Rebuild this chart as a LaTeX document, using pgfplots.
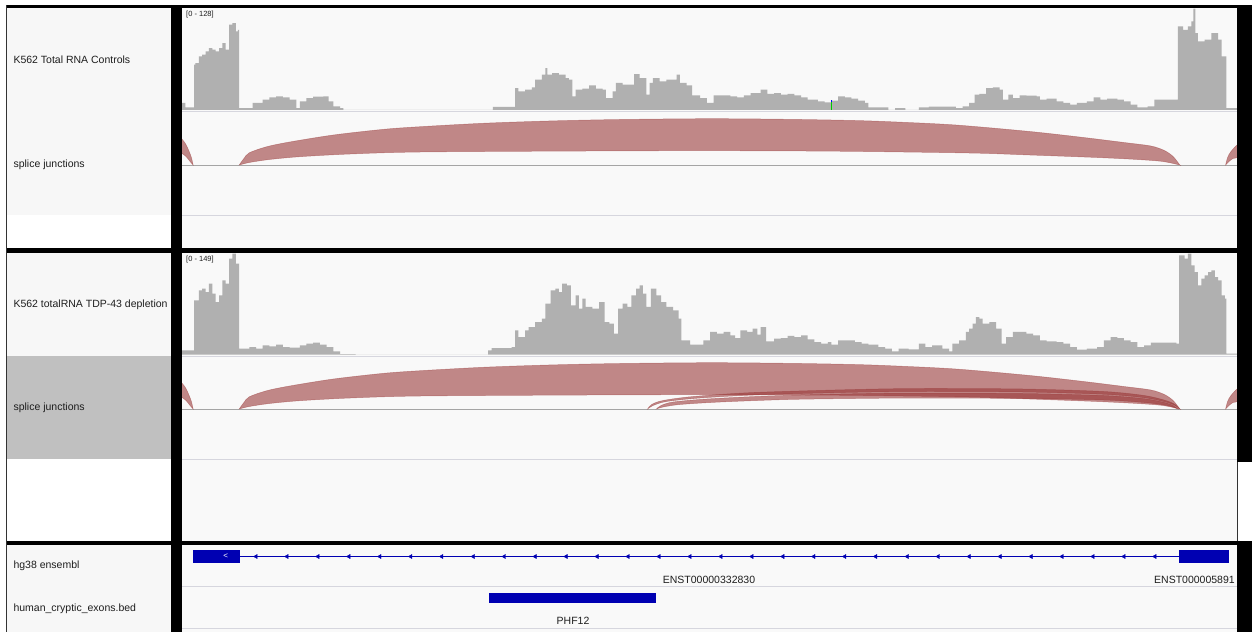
\documentclass[border=0pt]{standalone}
\usepackage{pgfplots}
\pgfplotsset{compat=1.18}
\usepackage{fontspec}
\setmainfont{Liberation Sans}

\definecolor{cov}{RGB}{176,176,176}
\definecolor{jn}{RGB}{150,50,50}
\definecolor{gene}{RGB}{0,0,178}
\definecolor{panel}{RGB}{249,249,249}
\definecolor{lab}{RGB}{247,247,247}
\definecolor{sel}{RGB}{192,192,192}
\definecolor{sep}{RGB}{214,214,222}
\definecolor{base}{RGB}{165,165,165}
\definecolor{txt}{RGB}{30,30,30}

\pgfplotsset{
  trk/.style={scale only axis, hide axis, xmin=0, xmax=1568, width=1055bp,
              anchor=south west, clip=true},
  jshape/.style={smooth, fill=jn, fill opacity=0.57, draw=jn, draw opacity=0.45,
                 line width=0.5bp},
}
\newcommand{\lbl}{\fontsize{10.5bp}{12bp}\selectfont}
\newcommand{\rng}{\fontsize{7.5bp}{8bp}\selectfont}

\begin{document}
\begin{tikzpicture}
\begin{scope}[x=1bp, y=-1bp]
\path[use as bounding box] (0,0) rectangle (1252,632);
\fill[white] (0,0) rectangle (1252,632);
% name panel
\fill[lab] (7,8) rectangle (171,215);
\fill[lab] (7,253) rectangle (171,356);
\fill[sel] (7,356) rectangle (171,459);
\fill[lab] (7,545) rectangle (171,632);
% data panel
\fill[panel] (182,8) rectangle (1237,248);
\fill[panel] (182,253) rectangle (1237,541);
\fill[panel] (182,545) rectangle (1237,632);
% track separators
\draw[sep, line width=1bp] (182,111.5) -- (1237,111.5);
\draw[base, line width=1bp] (182,165.5) -- (1237,165.5);
\draw[sep, line width=1bp] (182,215.5) -- (1237,215.5);
\draw[sep, line width=1bp] (182,356) -- (1237,356);
\draw[base, line width=1bp] (182,409.5) -- (1237,409.5);
\draw[sep, line width=1bp] (182,459.5) -- (1237,459.5);
\draw[sep, line width=1bp] (182,586) -- (1237,586);
\draw[sep, line width=1bp] (182,628) -- (1237,628);
% track names
\node[txt, anchor=west, font=\lbl] at (10,60) {K562 Total RNA Controls};
\node[txt, anchor=west, font=\lbl] at (10,165) {splice junctions};
\node[txt, anchor=west, font=\lbl] at (10,305) {K562 totalRNA TDP-43 depletion};
\node[txt, anchor=west, font=\lbl] at (10,408) {splice junctions};
\node[txt, anchor=west, font=\lbl] at (10,566) {hg38 ensembl};
\node[txt, anchor=west, font=\lbl] at (10,609) {human\_cryptic\_exons.bed};
% data ranges
\node[txt, anchor=west, font=\rng, inner sep=0pt] at (186,15) {[0 - 128]};
\node[txt, anchor=west, font=\rng, inner sep=0pt] at (186,260) {[0 - 149]};
% feature names
\node[txt, font=\lbl] at (709,580) {ENST00000332830};
\node[txt, anchor=west, font=\lbl, inner sep=0pt] at (1154,580) {ENST000005891};
\node[txt, font=\lbl] at (573,621) {PHF12};
\end{scope}

% ---- coverage, controls
\begin{axis}[trk, at={(182bp,-110bp)}, height=102bp, ymin=0, ymax=128]
\addplot[const plot, fill=cov, draw=none] coordinates {
(0,8.8)(5,3.3)(18,56.8)(20,58.9)(25,67.3)(30,69.4)(35,73.6)(40,77.7)(45,75.7)
(50,73.6)(55,77.7)(60,84.0)(65,75.7)(70,107.0)(75,109.1)(80,98.6)(83,100.7)
(85,2.5)(105,8.8)(120,13.0)(130,15.9)(140,17.1)(150,15.9)(160,13.0)(170,2.5)
(175,10.9)(185,15.0)(195,16.7)(210,17.1)(218,10.9)(225,4.6)(235,2.5)(240,0)
(462,3.8)(495,27.6)(500,23.4)(510,25.5)(520,28.4)(525,38.0)(535,44.3)(540,52.7)
(543,44.3)(550,46.4)(560,44.3)(570,40.1)(575,38.0)(580,17.1)(585,25.5)(595,26.8)
(605,30.9)(615,26.8)(625,25.5)(630,15.0)(640,23.4)(645,33.9)(655,31.8)(672,45.1)
(680,40.1)(690,19.2)(695,33.9)(700,40.1)(710,35.9)(720,38.0)(735,44.3)(740,33.9)
(750,30.9)(758,18.4)(770,15.0)(780,8.8)(790,18.4)(815,17.1)(825,15.9)(835,18.4)
(845,21.3)(860,25.5)(870,20.1)(880,21.3)(890,19.2)(900,20.1)(910,18.4)(920,15.9)
(930,13.0)(945,10.9)(955,9.6)(965,11.7)(975,17.1)(985,15.9)(995,14.2)(1005,11.7)
(1015,8.8)(1020,3.3)(1050,0)(1060,2.5)(1075,0)(1095,3.3)(1110,4.2)(1150,2.5)
(1160,4.6)(1170,8.8)(1178,19.2)(1185,20.1)(1195,27.6)(1205,28.4)(1215,25.5)
(1220,13.0)(1228,19.2)(1235,15.0)(1245,18.4)(1255,18.0)(1270,17.1)(1275,13.0)
(1285,14.2)(1300,10.9)(1310,8.8)(1320,6.7)(1330,8.8)(1345,10.9)(1355,15.9)
(1365,13.0)(1375,14.2)(1390,13.0)(1400,10.9)(1410,6.7)(1420,3.3)(1435,4.6)
(1445,13.0)(1480,104.9)(1488,100.7)(1495,104.9)(1500,111.2)(1503,127.1)
(1506,96.6)(1510,86.1)(1520,88.2)(1530,96.6)(1540,88.2)(1545,67.3)(1552,2.5)
(1568,2.5)
} \closedcycle;
% mismatch
\addplot[green!80!black, line width=1bp] coordinates {(965,0)(965,10)};
\addplot[blue, line width=1bp] coordinates {(965,10)(965,12)};
\end{axis}

% ---- junctions, controls
\begin{axis}[trk, at={(182bp,-165.5bp)}, height=53.5bp, ymin=0, ymax=53.5]
\addplot[jshape] coordinates {
(85,0.5)(92,7)(100,12.7)(126,18.8)(160,23.5)(225,30.5)(300,36.2)(354,38.8)
(450,42.3)(550,44.6)(650,46)(783,46.8)(900,46.2)(1000,45)(1062,43.5)(1150,40.5)
(1260,34)(1340,28)(1400,23)(1440,19.5)(1460,15)(1473,9)(1483,0.5)(1483,0.5)
(1458,4)(1420,6)(1360,8)(1260,10.5)(1170,12.5)(970,14.3)(783,14.8)(600,14.5)
(354,13.5)(250,11.5)(175,8.8)(130,6)(100,3)(85,0.5)} --cycle;
\addplot[jshape] coordinates {
(-2,28)(5,22)(10,15)(14,8)(16.5,0.5)(16.5,0.5)(12,4)(6,9)(-2,13)} --cycle;
\addplot[jshape] coordinates {
(1551,0.5)(1551,0.5)(1554,8)(1559,14)(1570,21)(1570,9)(1562,7)(1556,4)(1551,0.5)} --cycle;
\end{axis}

% ---- coverage, TDP-43 depletion
\begin{axis}[trk, at={(182bp,-354.7bp)}, height=101bp, ymin=0, ymax=149]
\addplot[const plot, fill=cov, draw=none] coordinates {
(0,6.4)(18,80.2)(25,95.0)(30,97.4)(35,92.5)(40,104.8)(45,90.0)(50,77.7)(55,87.6)
(60,109.7)(65,104.8)(70,141.7)(75,149)(80,134.3)(85,8.9)(100,11.3)(110,8.9)
(120,13.8)(130,12.3)(140,14.8)(150,11.3)(160,10.3)(175,13.8)(185,16.2)(195,17.7)
(205,14.8)(215,11.3)(225,4.9)(235,1.0)(258,0)(455,6.4)(460,9.8)(490,11.3)
(495,35.9)(500,26.1)(510,35.9)(515,40.8)(525,48.2)(535,53.1)(540,75.3)(548,95.0)
(555,97.4)(560,92.5)(565,104.8)(572,102.3)(578,72.8)(585,87.6)(590,67.9)
(595,82.7)(600,70.4)(610,67.9)(620,77.7)(628,48.2)(635,45.8)(642,31.0)(648,67.9)
(655,75.3)(662,70.4)(668,87.6)(675,97.4)(680,102.3)(685,90.0)(690,70.4)(697,97.4)
(705,87.6)(712,77.7)(720,70.4)(730,65.4)(738,53.1)(742,21.2)(755,14.8)(775,21.2)
(785,33.5)(795,31.0)(805,33.5)(815,28.5)(822,24.6)(830,35.9)(840,33.5)(848,38.4)
(855,29.5)(860,40.8)(868,19.7)(880,23.6)(890,24.6)(900,27.6)(910,26.1)(920,28.5)
(930,22.6)(940,18.7)(950,16.2)(960,18.7)(965,14.8)(975,21.2)(1000,18.7)
(1010,16.2)(1020,14.8)(1035,11.3)(1045,8.9)(1055,4.9)(1065,8.9)(1080,7.9)
(1095,16.2)(1105,11.3)(1115,13.8)(1130,8.9)(1140,4.9)(1145,16.2)(1155,21.2)
(1165,33.5)(1170,38.4)(1175,45.8)(1180,55.6)(1185,53.1)(1190,45.8)(1200,48.2)
(1210,38.4)(1218,16.2)(1225,26.1)(1235,33.5)(1255,31.0)(1265,28.5)(1275,21.2)
(1285,19.7)(1300,18.7)(1310,16.2)(1320,11.3)(1330,7.4)(1345,8.9)(1360,11.3)
(1370,21.2)(1380,26.1)(1390,24.6)(1400,21.2)(1410,18.7)(1420,11.3)(1430,13.8)
(1440,17.7)(1478,16.2)(1482,146.6)(1490,141.7)(1495,149)(1500,131.9)(1505,122.0)
(1510,102.3)(1515,112.2)(1520,117.1)(1525,122.0)(1530,124.5)(1535,114.6)
(1540,109.7)(1545,87.6)(1550,82.7)(1552,1.5)(1568,1.5)
} \closedcycle;
\end{axis}

% ---- junctions, TDP-43 depletion
\begin{axis}[trk, at={(182bp,-409.5bp)}, height=53bp, ymin=0, ymax=53]
\addplot[jshape] coordinates {
(85,0.5)(92,7)(100,12.7)(126,18.8)(160,23.5)(225,30.5)(300,36.2)(354,38.8)
(450,42.3)(550,44.6)(650,46)(783,46.8)(900,46.2)(1000,45)(1062,43.5)(1150,40.5)
(1260,34)(1340,28)(1400,23)(1440,19.5)(1460,15)(1473,9)(1483,0.5)(1483,0.5)
(1458,4)(1420,6)(1360,8)(1260,10.5)(1170,12.5)(970,14.3)(783,14.8)(600,14.5)
(354,13.5)(250,11.5)(175,8.8)(130,6)(100,3)(85,0.5)} --cycle;
% cryptic junctions
\addplot[jshape] coordinates {
(692,0.5)(698,5)(715,9)(760,13)(850,17)(1000,20)(1100,21)(1250,20.5)(1370,18)
(1430,14)(1462,9)(1476,5)(1483,0.5)(1483,0.5)(1476,4)(1462,7.5)(1430,11.8)
(1370,15.2)(1250,17.5)(1100,18)(1000,17.2)(860,14.8)(770,11.5)(720,8)(700,4)
(692,0.5)} --cycle;
\addplot[jshape] coordinates {
(705,0.5)(712,4)(730,7.5)(780,10.5)(870,13.5)(1000,15.8)(1100,16.5)(1250,16)
(1370,14)(1430,10.8)(1460,7)(1473,4)(1480,0.5)(1480,0.5)(1473,2.5)(1460,4.5)
(1430,7)(1370,9.5)(1250,11)(1100,11.5)(1000,11)(900,10)(800,7.5)(740,5)
(715,2.5)(705,0.5)} --cycle;
\addplot[jshape] coordinates {
(-2,28)(5,22)(10,15)(14,8)(16.5,0.5)(16.5,0.5)(12,4)(6,9)(-2,13)} --cycle;
\addplot[jshape] coordinates {
(1551,0.5)(1551,0.5)(1554,8)(1559,14)(1570,21)(1570,9)(1562,7)(1556,4)(1551,0.5)} --cycle;
\end{axis}

% ---- gene and cryptic exon tracks (y in screen rows)
\begin{axis}[trk, at={(182bp,-632bp)}, height=87bp, ymin=545, ymax=632, y dir=reverse]
\addplot[gene, line width=1bp] coordinates {(86,556.5)(1482,556.5)};
\addplot[fill=gene, draw=none] coordinates {(16,550)(86,550)(86,563)(16,563)} --cycle;
\addplot[fill=gene, draw=none] coordinates {(1482,550)(1556,550)(1556,563)(1482,563)} --cycle;
\addplot[only marks, gene, mark=triangle*, mark size=2.4bp,
         mark options={rotate=90, fill=gene, draw=gene}] coordinates {
(110,556.5)(156,556.5)(202,556.5)(248,556.5)(294,556.5)(340,556.5)(386,556.5)
(433,556.5)(479,556.5)(525,556.5)(571,556.5)(617,556.5)(663,556.5)(709,556.5)
(755,556.5)(801,556.5)(847,556.5)(893,556.5)(939,556.5)(985,556.5)(1031,556.5)
(1078,556.5)(1124,556.5)(1170,556.5)(1216,556.5)(1262,556.5)(1308,556.5)
(1354,556.5)(1400,556.5)(1446,556.5)};
\node[white, font=\fontsize{8bp}{8bp}\selectfont, inner sep=0pt] at (axis cs:65,556) {<};
\addplot[fill=gene, draw=none] coordinates {(456,593)(704.5,593)(704.5,603)(456,603)} --cycle;
\end{axis}

% ---- frame
\begin{scope}[x=1bp, y=-1bp]
\fill[black] (6,5) rectangle (1252,8);
\fill[black] (171,5) rectangle (182,632);
\fill[black] (6,248) rectangle (1252,253);
\fill[black] (6,541) rectangle (1252,545);
\fill[black] (1237,5) rectangle (1252,462);
\fill[black] (1237,545) rectangle (1252,632);
\draw[black!80, line width=1.2bp] (6.6,5) -- (6.6,632);
\draw[black!80, line width=1bp] (1237.5,462) -- (1237.5,541);
\end{scope}
\end{tikzpicture}
\end{document}
